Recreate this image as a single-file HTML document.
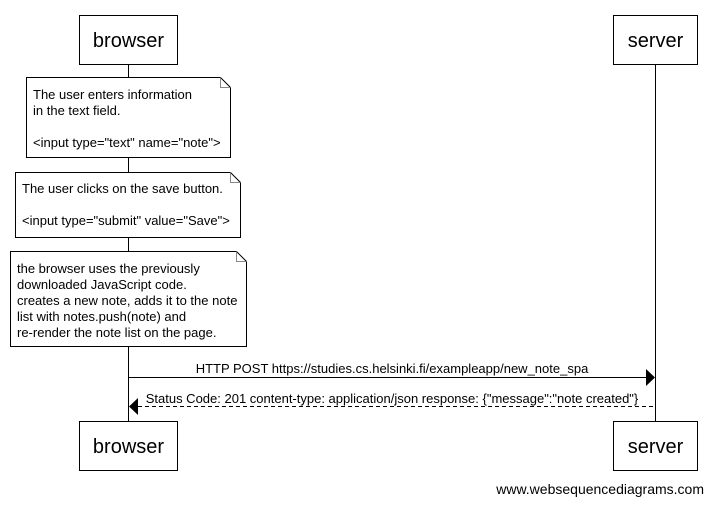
<!DOCTYPE html>
<html><head><meta charset="utf-8"><style>
body{margin:0;background:#fff;width:713px;height:504px;overflow:hidden}
svg text{font-family:"Liberation Sans",Arial,sans-serif;fill:#000}
</style></head><body>
<svg width="713" height="504" viewBox="0 0 713 504" xmlns="http://www.w3.org/2000/svg">
<g stroke="#000" stroke-width="1" fill="none">
<line x1="128.5" y1="64" x2="128.5" y2="421"/>
<line x1="655.5" y1="64" x2="655.5" y2="421"/>
<rect x="79.5" y="15.5" width="98" height="49" fill="#fff"/>
<rect x="613.5" y="15.5" width="84" height="49" fill="#fff"/>
<rect x="79.5" y="421.5" width="98" height="49" fill="#fff"/>
<rect x="613.5" y="421.5" width="84" height="49" fill="#fff"/>
<path d="M26.5 77.5H220.5L230.5 87.5V157.5H26.5Z" fill="#fff"/>
<path d="M220.5 77.5V87.5H230.5" stroke="#888"/>
<path d="M15.5 172.5H230.5L240.5 182.5V237.5H15.5Z" fill="#fff"/>
<path d="M230.5 172.5V182.5H240.5" stroke="#888"/>
<path d="M10.5 251.5H236.5L246.5 261.5V346.5H10.5Z" fill="#fff"/>
<path d="M236.5 251.5V261.5H246.5" stroke="#888"/>
<line x1="128.5" y1="377.5" x2="646" y2="377.5"/>
<line x1="138" y1="406.5" x2="655" y2="406.5" stroke-dasharray="4,3"/>
</g>
<path d="M646 369L655 377.5L646 386Z" fill="#000"/>
<path d="M138 398L129 406.5L138 415Z" fill="#000"/>
<g font-size="20" text-anchor="middle">
<text x="128.5" y="47">browser</text>
<text x="655.5" y="47">server</text>
<text x="128.5" y="453">browser</text>
<text x="655.5" y="453">server</text>
</g>
<g font-size="13">
<text x="33" y="99">The user enters information</text>
<text x="33" y="115">in the text field.</text>
<text x="33" y="147">&lt;input type="text" name="note"&gt;</text>
<text x="22" y="193">The user clicks on the save button.</text>
<text x="22" y="225">&lt;input type="submit" value="Save"&gt;</text>
<text x="17" y="273">the browser uses the previously</text>
<text x="17" y="289">downloaded JavaScript code.</text>
<text x="17" y="305">creates a new note, adds it to the note</text>
<text x="17" y="321">list with notes.push(note) and</text>
<text x="17" y="337">re-render the note list on the page.</text>
<text x="392" y="373" text-anchor="middle">HTTP POST https://studies.cs.helsinki.fi/exampleapp/new_note_spa</text>
<text x="392" y="403" text-anchor="middle">Status Code: 201 content-type: application/json response: {"message":"note created"}</text>
<text x="704" y="494" text-anchor="end" font-size="14">www.websequencediagrams.com</text>
</g>
</svg>
</body></html>
